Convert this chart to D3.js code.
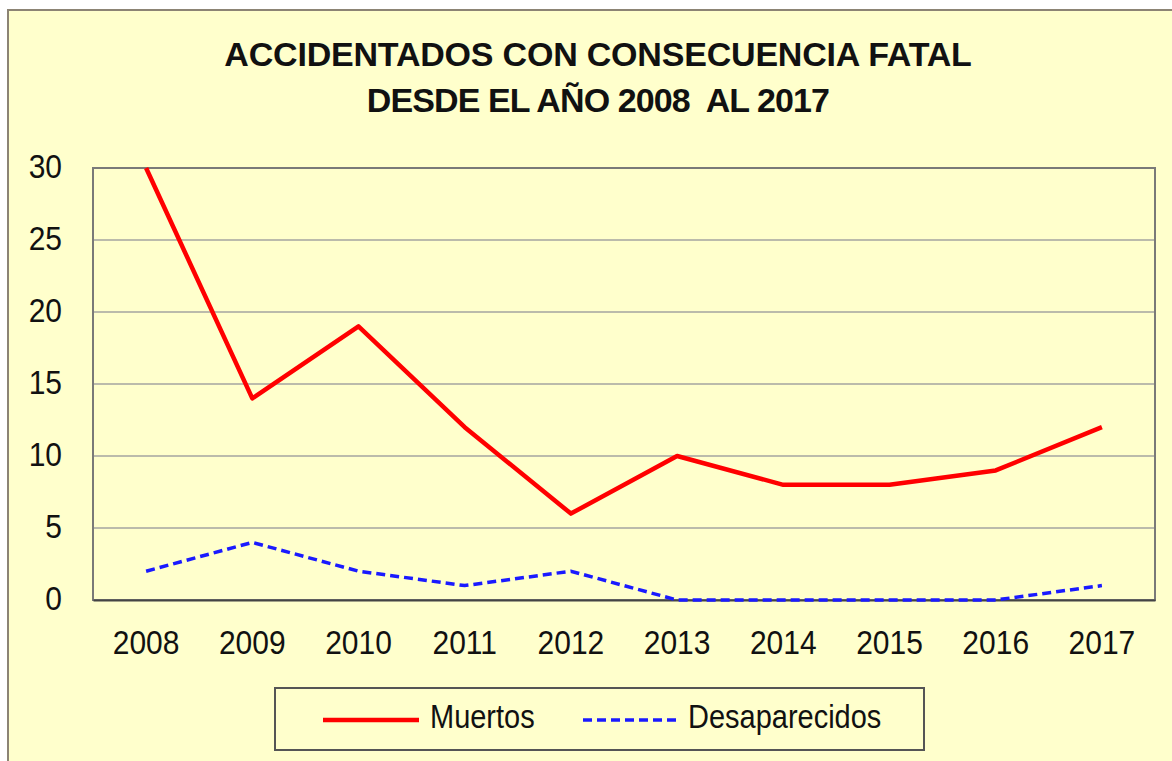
<!DOCTYPE html>
<html>
<head>
<meta charset="utf-8">
<script src="https://cdn.jsdelivr.net/npm/d3@7"></script>
<style>
  body { margin: 0; background: #fff; }
  text { font-family: "Liberation Sans", Arial, sans-serif; fill: #111; }
</style>
</head>
<body>
<div id="chart"></div>
<script>
// data
var years = ['2008','2009','2010','2011','2012','2013','2014','2015','2016','2017'];
var muertos = [30, 14, 19, 12, 6, 10, 8, 8, 9, 12];
var desaparecidos = [2, 4, 2, 1, 2, 0, 0, 0, 0, 1];
var yTicks = [0, 5, 10, 15, 20, 25, 30];
var titleLines = ['ACCIDENTADOS CON CONSECUENCIA FATAL', 'DESDE EL AÑO 2008  AL 2017'];

var W = 1172, H = 761;
var plot = {left: 93, top: 168, right: 1155, bottom: 600};
var stretch = 1.12; // labels in the picture look a bit tall

var svg = d3.select('#chart').append('svg')
  .attr('width', W).attr('height', H);

// outer chart area
svg.append('rect')
  .attr('x', 8).attr('y', 10)
  .attr('width', W + 10).attr('height', H + 10)
  .attr('fill', '#ffffcc')
  .attr('stroke', '#8c8474').attr('stroke-width', 2);

// title
svg.selectAll('.title').data(titleLines).enter().append('text')
  .attr('class', 'title')
  .attr('x', 598).attr('y', function(d, i){ return 66 + i * 46; })
  .attr('text-anchor', 'middle')
  .style('font-size', '34px').style('font-weight', 'bold')
  .style('letter-spacing', function(d, i){ return i ? '-0.9px' : '-0.2px'; })
  .style('white-space', 'pre')
  .text(function(d){ return d; });

var x = d3.scaleBand().domain(years).range([plot.left, plot.right]);
var y = d3.scaleLinear().domain([0, 30]).range([plot.bottom, plot.top]);

// plot area
svg.append('rect')
  .attr('x', plot.left).attr('y', plot.top)
  .attr('width', plot.right - plot.left).attr('height', plot.bottom - plot.top)
  .attr('fill', '#ffffcc');

// gridlines
svg.selectAll('.grid').data(yTicks.filter(function(d){ return d > 0; })).enter().append('line')
  .attr('x1', plot.left).attr('x2', plot.right)
  .attr('y1', function(d){ return y(d); }).attr('y2', function(d){ return y(d); })
  .attr('stroke', '#a4a4a0').attr('stroke-width', 1.5);

// plot border
svg.append('rect')
  .attr('x', plot.left).attr('y', plot.top)
  .attr('width', plot.right - plot.left).attr('height', plot.bottom - plot.top)
  .attr('fill', 'none').attr('stroke', '#7a7a78').attr('stroke-width', 2);

// axes
var yAxis = svg.append('g')
  .attr('transform', 'translate(' + plot.left + ',0)')
  .call(d3.axisLeft(y).tickValues(yTicks).tickSize(0));
var xAxis = svg.append('g')
  .attr('transform', 'translate(0,' + plot.bottom + ')')
  .call(d3.axisBottom(x).tickSize(0));
[xAxis, yAxis].forEach(function(g){
  g.select('.domain').attr('stroke', '#444').attr('stroke-width', 2);
  g.selectAll('text')
    .style('font-size', '30px')
    .style('font-family', '"Liberation Sans", Arial, sans-serif')
    .attr('fill', '#111')
    .attr('dy', 0)
    .attr('transform', 'scale(1,' + stretch + ')');
});
yAxis.select('.domain').remove();
yAxis.selectAll('text').attr('text-anchor', 'end').attr('x', -31).attr('y', 9 / stretch);
xAxis.selectAll('text').attr('y', 54 / stretch);

var line = d3.line()
  .x(function(d, i){ return x(years[i]) + x.bandwidth() / 2; })
  .y(function(d){ return y(d); });

svg.append('path').datum(desaparecidos)
  .attr('d', line).attr('fill', 'none')
  .attr('stroke', '#1a1aff').attr('stroke-width', 3.5)
  .attr('stroke-dasharray', '9,5');

svg.append('path').datum(muertos)
  .attr('d', line).attr('fill', 'none')
  .attr('stroke', '#ff0000').attr('stroke-width', 4.5)
  .attr('stroke-linejoin', 'round');

// legend
var legend = svg.append('g');
legend.append('rect')
  .attr('x', 275).attr('y', 688).attr('width', 649).attr('height', 62)
  .attr('fill', '#ffffcc').attr('stroke', '#555').attr('stroke-width', 2);
var items = [
  {name: 'Muertos', color: '#ff0000', dash: null, width: 4.5, x: 323, tx: 430},
  {name: 'Desaparecidos', color: '#1a1aff', dash: '9,5', width: 3.5, x: 583, tx: 688}
];
items.forEach(function(it){
  legend.append('line')
    .attr('x1', it.x).attr('x2', it.x + 96)
    .attr('y1', 720).attr('y2', 720)
    .attr('stroke', it.color).attr('stroke-width', it.width)
    .attr('stroke-dasharray', it.dash);
  legend.append('text')
    .attr('transform', 'translate(' + it.tx + ',728) scale(1,' + stretch + ')')
    .style('font-size', '29px')
    .text(it.name);
});
</script>
</body>
</html>
